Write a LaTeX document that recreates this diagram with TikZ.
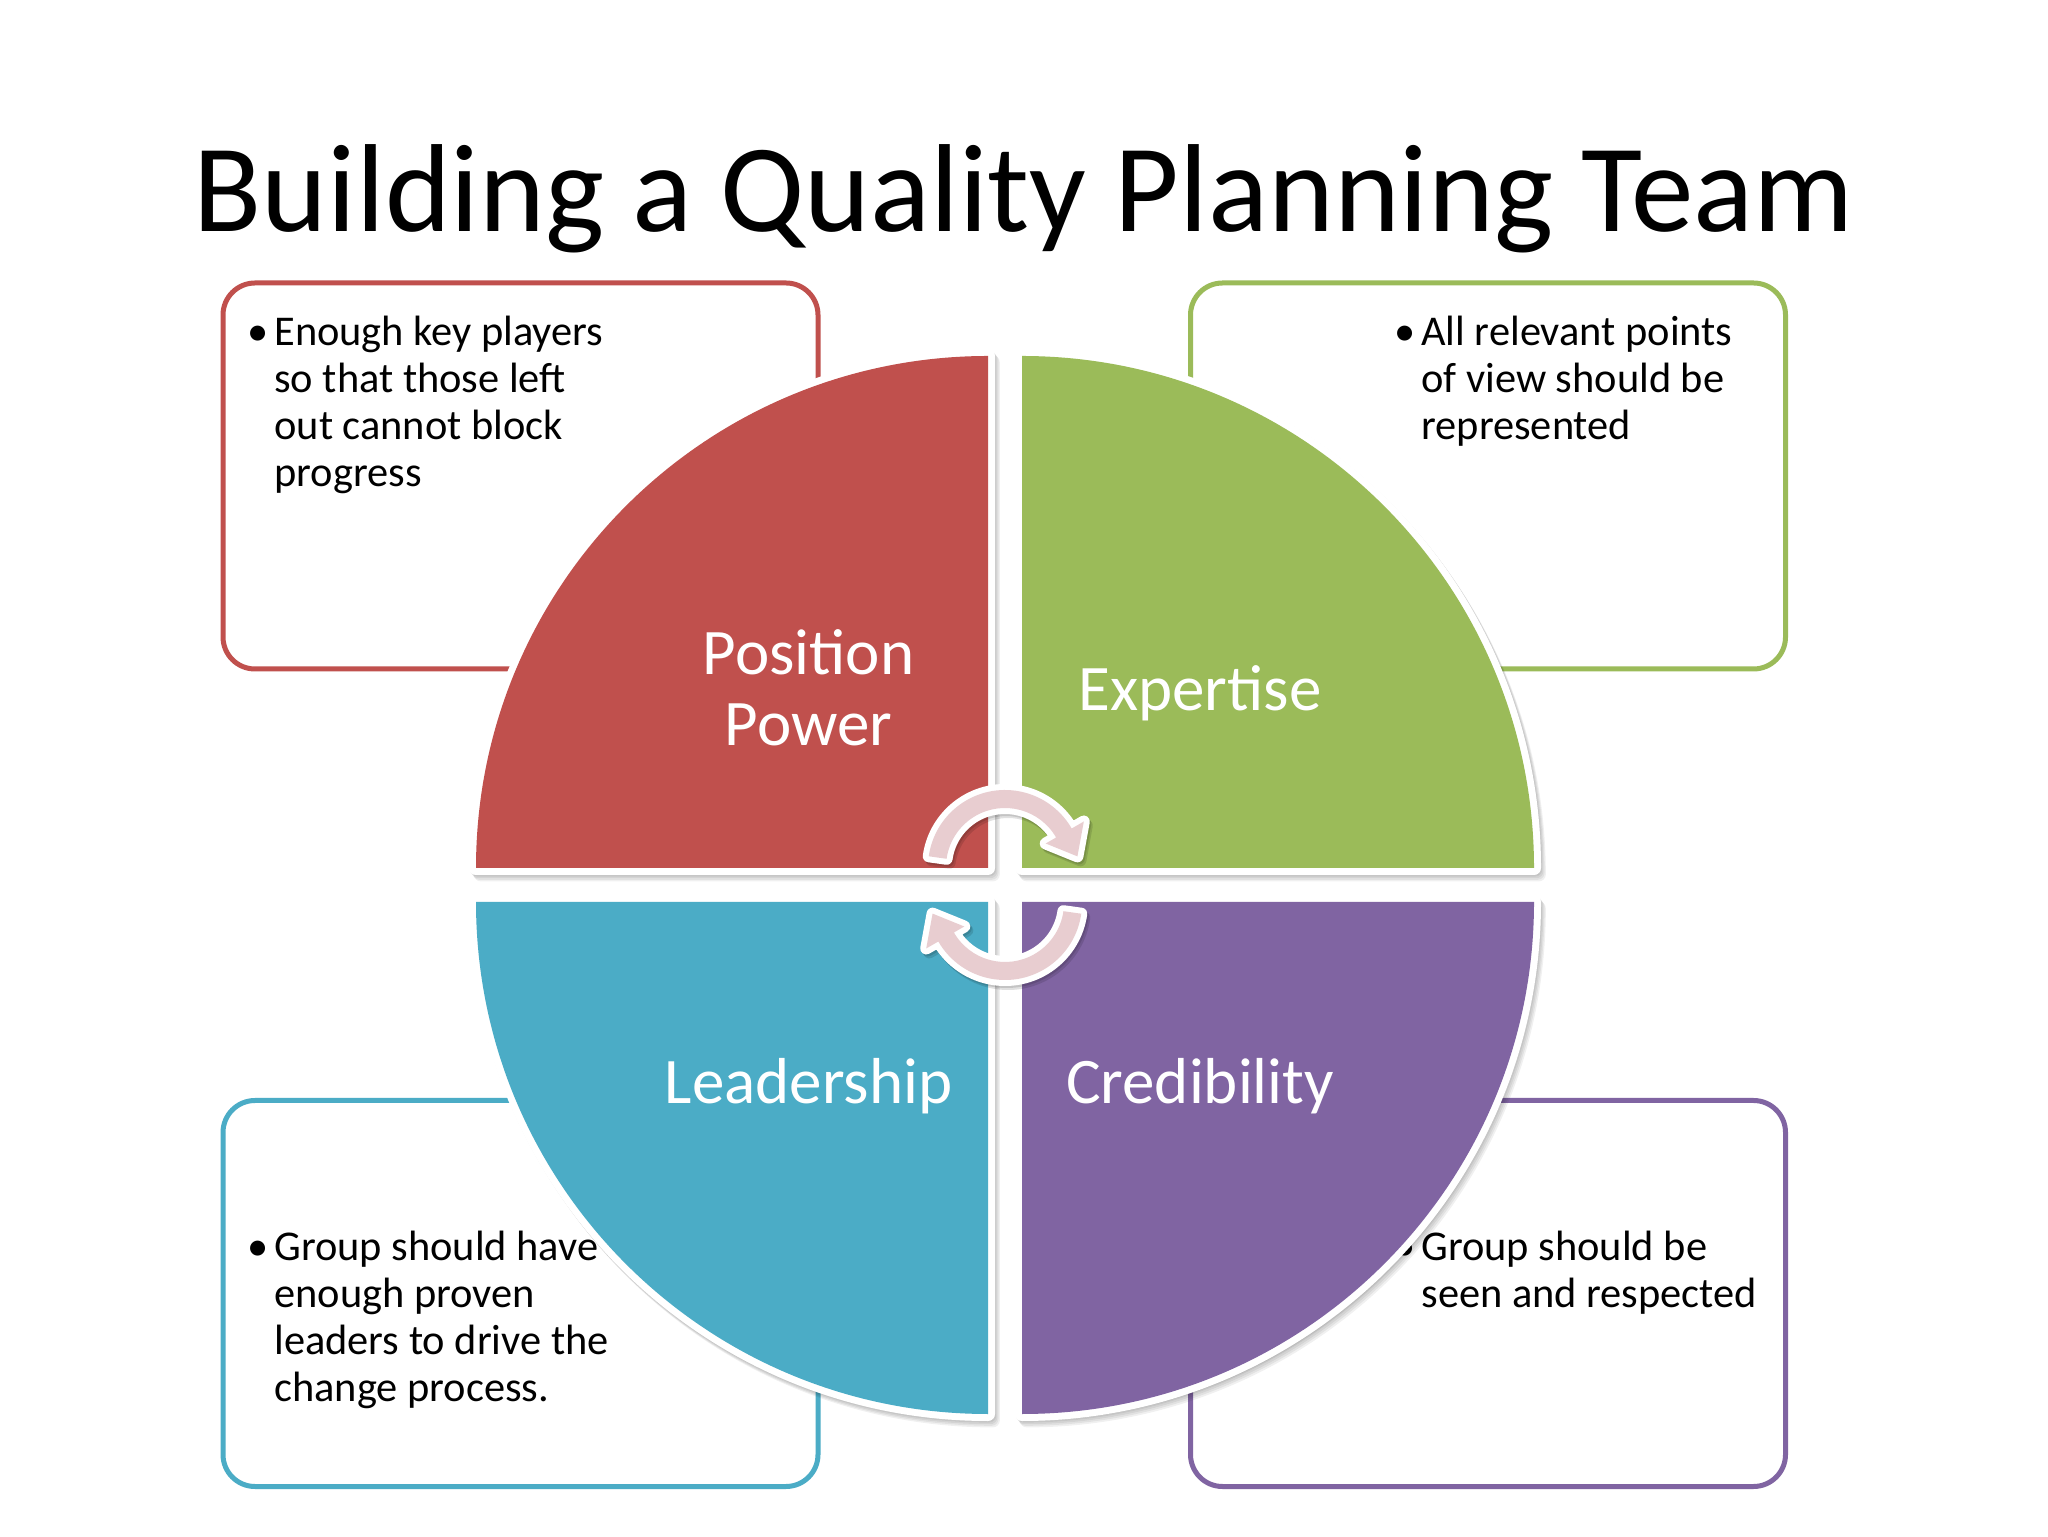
\documentclass[tikz,border=0pt]{standalone}
\usepackage{fontspec}
\setmainfont{Carlito}
\definecolor{qred}{HTML}{C0504D}
\definecolor{qgreen}{HTML}{9BBB59}
\definecolor{qblue}{HTML}{4BACC6}
\definecolor{qpurple}{HTML}{8064A2}
\definecolor{arrowpink}{HTML}{E8CDD0}
\begin{document}
\begin{tikzpicture}[x=0.5pt,y=0.5pt,
  infobox/.style={draw=#1, line width=2.5pt, rounded corners=16pt, fill=white,
    minimum width=297.5pt, minimum height=193pt, inner sep=0pt},
  boxtext/.style={anchor=base west, inner sep=0pt, text=black,
    font=\fontsize{21.2}{23.5}\selectfont},
  bulletmark/.style={anchor=base, inner sep=0pt, text=black,
    font=\fontsize{21.2}{23.5}\selectfont},
  quadlabel/.style={anchor=base, inner sep=0pt, text=white,
    font=\fontsize{32.5}{35.5}\selectfont},
  quadshadow/.style={fill=black, draw=black, line width=7pt, line join=round,
    fill opacity=0.06, draw opacity=0.06},
  quadborder/.style={draw=white, line width=7pt, line join=round},
  arrowshadow/.style={fill=black, draw=black, line width=6pt, line join=round,
    fill opacity=0.12, draw opacity=0.12},
  arrowborder/.style={draw=white, fill=white, line width=6pt, line join=round},
]
\useasboundingbox (0,0) rectangle (2048,1536);
\fill[white] (0,0) rectangle (2048,1536);

% title
\node[anchor=base, inner sep=0pt, font=\fontsize{62.6}{70}\selectfont] (title)
  at (1024,1304) {Building a Quality Planning Team};

% outer boxes
\node[infobox=qred]    (boxred)    at (520.5,1060) {};
\node[infobox=qgreen]  (boxgreen)  at (1488,1060)  {};
\node[infobox=qblue]   (boxblue)   at (520.5,242.5) {};
\node[infobox=qpurple] (boxpurple) at (1488,242.5) {};

% box texts
\node[bulletmark] (bred) at (258,1190) {•};
\node[boxtext] (tred) at (274,1190) {\begin{tabular}[t]{@{}l@{}}Enough key players\\so that those left\\out cannot block\\progress\end{tabular}};
\node[bulletmark] (bgreen) at (1405,1190) {•};
\node[boxtext] (tgreen) at (1421,1190) {\begin{tabular}[t]{@{}l@{}}All relevant points\\of view should be\\represented\end{tabular}};
\node[bulletmark] (bblue) at (258,276) {•};
\node[boxtext] (tblue) at (274,276) {\begin{tabular}[t]{@{}l@{}}Group should have\\enough proven\\leaders to drive the\\change process.\end{tabular}};
\node[bulletmark] (bpurple) at (1405,276) {•};
\node[boxtext] (tpurple) at (1421,276) {\begin{tabular}[t]{@{}l@{}}Group should be\\seen and respected\end{tabular}};

% quadrants: shadows
\foreach \cx/\cy/\sa/\ea/\dx in {988/668/180/90/-512, 1022/668/0/90/512, 988/634/180/270/-512, 1022/634/0/-90/512}{
  \foreach \s in {1,2,3,4}{
    \path[quadshadow, shift={(\s*1.2,-\s*1.6)}] (\cx,\cy) -- ++(\dx,0) arc[start angle=\sa, end angle=\ea, radius=512] -- cycle;
  }
}
% quadrants: white borders
\foreach \cx/\cy/\sa/\ea/\dx in {988/668/180/90/-512, 1022/668/0/90/512, 988/634/180/270/-512, 1022/634/0/-90/512}{
  \path[quadborder] (\cx,\cy) -- ++(\dx,0) arc[start angle=\sa, end angle=\ea, radius=512] -- cycle;
}
% quadrants: fills
\foreach \cx/\cy/\sa/\ea/\dx/\col in {988/668/180/90/-512/qred, 1022/668/0/90/512/qgreen, 988/634/180/270/-512/qblue, 1022/634/0/-90/512/qpurple}{
  \fill[\col] (\cx,\cy) -- ++(\dx,0) arc[start angle=\sa, end angle=\ea, radius=512] -- cycle;
}

% quadrant labels
\node[quadlabel] (lposition) at (808.5,861) {\begin{tabular}[t]{@{}c@{}}Position\\Power\end{tabular}};
\node[quadlabel] (lexpertise) at (1200,825.5) {Expertise};
\node[quadlabel] (lleadership) at (808.5,432) {Leadership};
\node[quadlabel] (lcredibility) at (1200,432) {Credibility};

% circular arrows
\foreach \cy/\a in {669/0, 633/180}{
  \begin{scope}[shift={(1005,\cy)}]
    \foreach \s in {1,2}{
      \path[arrowshadow, shift={(\s*1.5,-\s*2)}] (\a+172:77) arc[start angle=\a+172, end angle=\a+30, radius=77]
        -- (\a+30:91) -- (\a+8.35:73.2) -- (\a+30:47) -- (\a+30:59)
        arc[start angle=\a+30, end angle=\a+172, radius=59] -- cycle;
    }
    \path[arrowborder] (\a+172:77) arc[start angle=\a+172, end angle=\a+30, radius=77]
      -- (\a+30:91) -- (\a+8.35:73.2) -- (\a+30:47) -- (\a+30:59)
      arc[start angle=\a+30, end angle=\a+172, radius=59] -- cycle;
    \fill[arrowpink] (\a+172:77) arc[start angle=\a+172, end angle=\a+30, radius=77]
      -- (\a+30:91) -- (\a+8.35:73.2) -- (\a+30:47) -- (\a+30:59)
      arc[start angle=\a+30, end angle=\a+172, radius=59] -- cycle;
  \end{scope}
}
\end{tikzpicture}
\end{document}
